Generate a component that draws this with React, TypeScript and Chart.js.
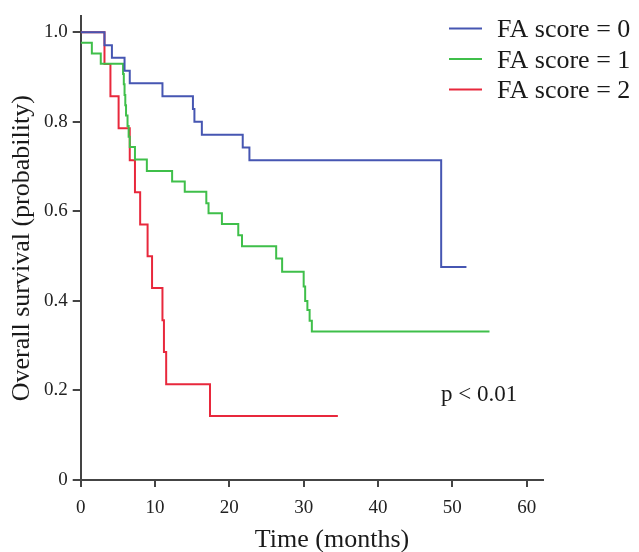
import { useEffect, useRef } from 'react';
import { Chart, registerables } from 'chart.js';

Chart.register(...registerables);

const FONT = '"Liberation Serif", "Times New Roman", serif';

// Kaplan–Meier curves (time in months, survival probability)
const blueTimes = [0, 3.2, 4.2, 5.9, 6.6, 11.0, 15.1, 15.3, 16.3, 21.8, 22.7, 48.5, 51.9];
const blueSurv = [1.0, 0.971, 0.943, 0.914, 0.886, 0.857, 0.829, 0.8, 0.771, 0.743, 0.714, 0.476, 0.476];

const greenTimes = [0, 1.5, 2.7, 5.7, 5.8, 5.9, 6.0, 6.1, 6.3, 6.45, 6.6, 7.3, 8.9, 12.3, 14.0, 16.9, 17.2, 19.0, 21.2, 21.7, 26.3, 27.1, 30.0, 30.2, 30.5, 30.8, 31.1, 55.0];
const greenSurv = [0.977, 0.953, 0.93, 0.907, 0.884, 0.86, 0.837, 0.814, 0.791, 0.767, 0.744, 0.716, 0.69, 0.667, 0.644, 0.618, 0.596, 0.572, 0.547, 0.522, 0.495, 0.465, 0.432, 0.4, 0.38, 0.356, 0.332, 0.332];

const redTimes = [0, 3.2, 4.0, 5.1, 6.6, 7.3, 8.0, 9.0, 9.6, 11.0, 11.2, 11.5, 17.4, 34.6];
const redSurv = [1.0, 0.929, 0.857, 0.786, 0.714, 0.643, 0.571, 0.5, 0.429, 0.357, 0.286, 0.214, 0.143, 0.143];

const seriesLabels = ['FA score = 0', 'FA score = 1', 'FA score = 2'];
const seriesColors = ['#4656b2', '#3fbf4a', '#e8283c'];

const xTickValues = [0, 10, 20, 30, 40, 50, 60];
const yTickValues = [0, 0.2, 0.4, 0.6, 0.8, 1.0];

const xTitle = 'Time (months)';
const pValueText = 'p < 0.01';

const toPoints = (t: number[], s: number[]) => t.map((x, i) => ({ x, y: s[i] }));

const overlayPlugin = {
  id: 'kmOverlay',
  afterDraw(chart: any) {
    const ctx = chart.ctx;
    ctx.save();
    ctx.font = `26px ${FONT}`;
    ctx.textBaseline = 'alphabetic';
    ctx.textAlign = 'left';
    seriesLabels.forEach((label, i) => {
      const y = 28.5 + i * 30.5;
      ctx.strokeStyle = seriesColors[i];
      ctx.lineWidth = 2;
      ctx.beginPath();
      ctx.moveTo(449, y);
      ctx.lineTo(482, y);
      ctx.stroke();
      ctx.fillStyle = '#1a1a1a';
      ctx.fillText(label, 497, y + 8.5);
    });
    ctx.font = `23px ${FONT}`;
    ctx.fillText(pValueText, 441, 401);
    ctx.font = `26px ${FONT}`;
    ctx.textAlign = 'center';
    ctx.fillText(xTitle, 332, 547);
    ctx.restore();
  },
};

export default function App() {
  const ref = useRef<HTMLCanvasElement | null>(null);

  useEffect(() => {
    if (!ref.current) return;
    const mk = (label: string, t: number[], s: number[], color: string) => ({
      label,
      data: toPoints(t, s),
      borderColor: color,
      backgroundColor: color,
      borderWidth: 2,
      pointRadius: 0,
      stepped: 'before' as const,
      fill: false,
    });
    const chart = new Chart(ref.current, {
      type: 'line',
      data: {
        datasets: [
          mk(seriesLabels[0], blueTimes, blueSurv, seriesColors[0]),
          mk(seriesLabels[1], greenTimes, greenSurv, seriesColors[1]),
          mk(seriesLabels[2], redTimes, redSurv, seriesColors[2]),
        ],
      },
      options: {
        responsive: false,
        animation: false,
        layout: { padding: { top: 14, right: 96, left: 0, bottom: 0 } },
        plugins: {
          legend: { display: false },
          tooltip: { enabled: false },
        },
        scales: {
          x: {
            type: 'linear',
            min: 0,
            max: 62.2,
            afterBuildTicks: (scale: any) => {
              scale.ticks = xTickValues.map((v) => ({ value: v }));
            },
            afterFit: (scale: any) => {
              scale.height = 72;
            },
            ticks: {
              font: { family: FONT, size: 19 },
              color: '#222',
              padding: 10,
              maxRotation: 0,
              callback: (v: any) => String(v),
            },
            grid: {
              drawOnChartArea: false,
              drawTicks: true,
              tickLength: 7,
              color: '#444',
              lineWidth: 2,
            },
            border: { display: true, color: '#444', width: 2 },
            title: { display: false },
          },
          y: {
            type: 'linear',
            min: 0,
            max: 1.0356,
            afterBuildTicks: (scale: any) => {
              scale.ticks = yTickValues.map((v) => ({ value: v }));
            },
            afterFit: (scale: any) => {
              scale.width = 80.7;
            },
            ticks: {
              font: { family: FONT, size: 19 },
              color: '#222',
              padding: 5,
              callback: (v: any) => (Number(v) === 0 ? '0' : Number(v).toFixed(1)),
            },
            grid: {
              drawOnChartArea: false,
              drawTicks: true,
              tickLength: 8,
              color: '#444',
              lineWidth: 2,
            },
            border: { display: true, color: '#444', width: 2 },
            title: {
              display: true,
              text: 'Overall survival (probability)',
              font: { family: FONT, size: 26 },
              color: '#1a1a1a',
              padding: { top: 7, bottom: 0 },
            },
          },
        },
      },
      plugins: [overlayPlugin],
    });
    return () => chart.destroy();
  }, []);

  return (
    <div style={{ position: 'fixed', left: 0, top: 0, width: 639, height: 552, background: '#fff' }}>
      <canvas ref={ref} width={639} height={552} style={{ display: 'block', width: 639, height: 552 }} />
    </div>
  );
}
